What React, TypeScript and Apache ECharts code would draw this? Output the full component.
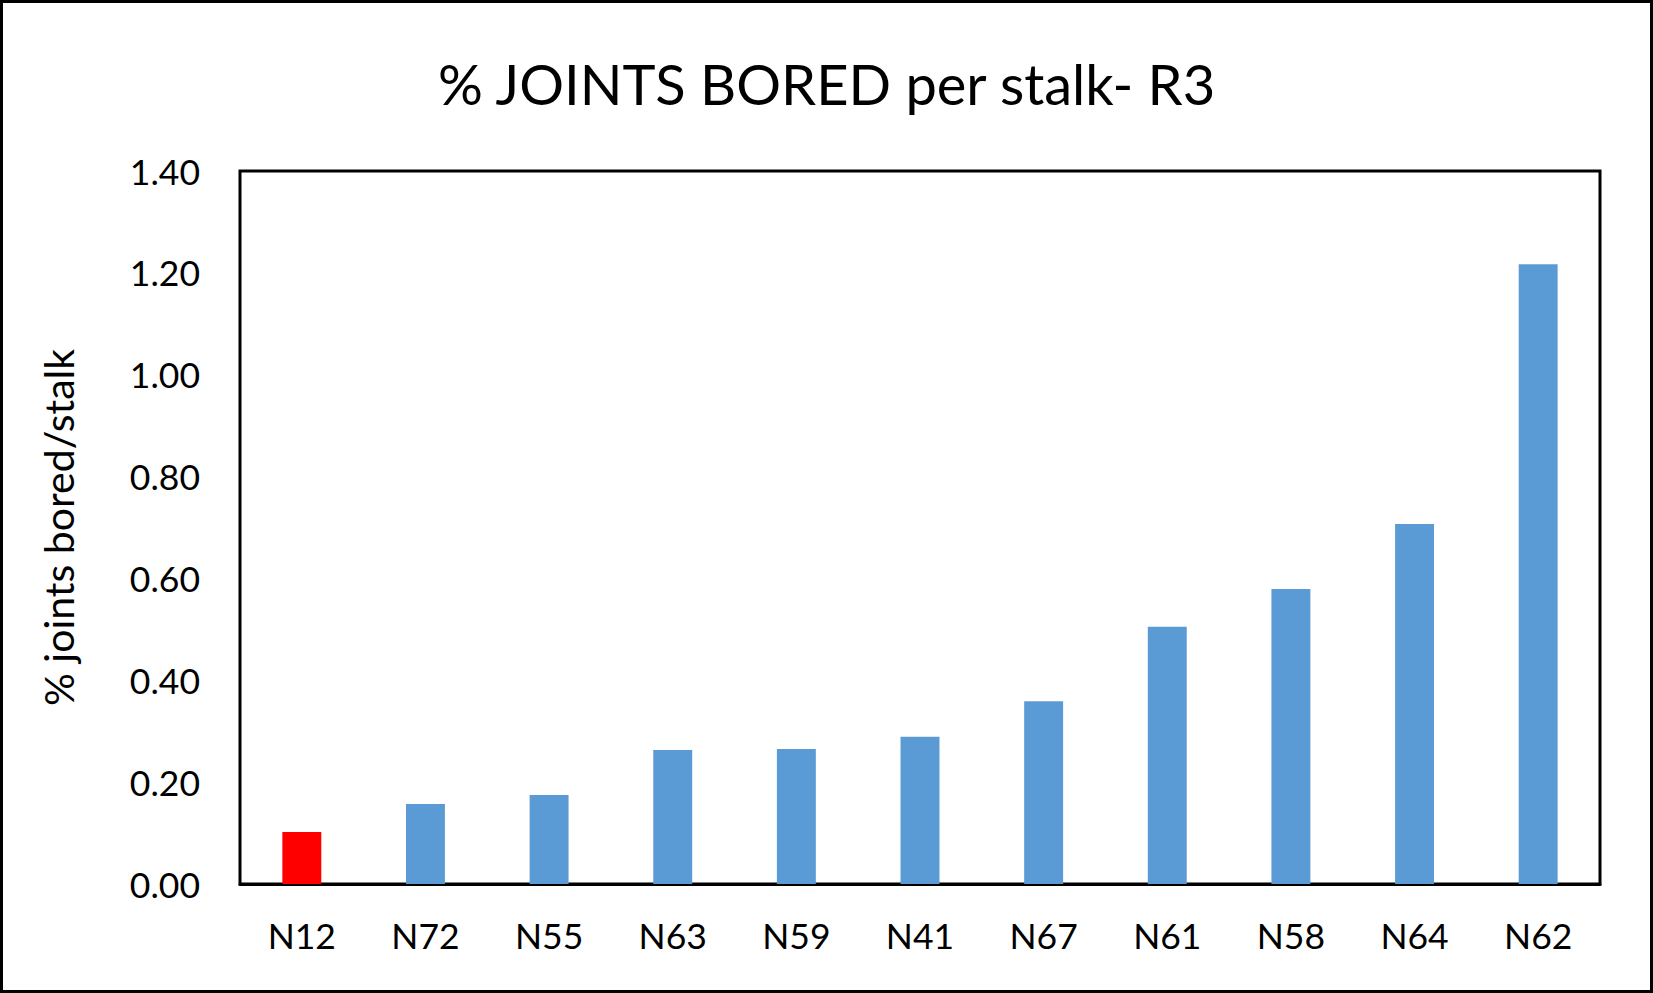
import React, { useEffect, useRef } from "react";
import * as echarts from "echarts";

const categories = ["N12", "N72", "N55", "N63", "N59", "N41", "N67", "N61", "N58", "N64", "N62"];
const values = [0.102, 0.157, 0.175, 0.263, 0.265, 0.289, 0.359, 0.505, 0.579, 0.707, 1.217];
const highlighted = ["N12"];
const titleText = "% JOINTS BORED per stalk- R3";
const yAxisTitle = "% joints bored/stalk";

const FONT = "Lato";

export default function App() {
  const ref = useRef<HTMLDivElement>(null);
  useEffect(() => {
    if (!ref.current) return;
    const chart = echarts.init(ref.current, null, { renderer: "svg" });
    chart.setOption({
      animation: false,
      backgroundColor: "#ffffff",
      title: {
        text: titleText,
        left: "center",
        top: 50,
        textStyle: { fontFamily: FONT, fontSize: 56, fontWeight: "normal", color: "#000" },
      },
      graphic: [
        {
          type: "rect",
          shape: { x: 1.5, y: 1.5, width: 1650, height: 990 },
          style: { fill: "none", stroke: "#000", lineWidth: 3 },
          silent: true,
        },
      ],
      grid: {
        left: 240,
        top: 171,
        right: 53,
        bottom: 109,
        show: true,
        borderColor: "#000",
        borderWidth: 3,
      },
      xAxis: {
        type: "category",
        data: categories,
        axisLine: { show: true, lineStyle: { color: "#000", width: 3 } },
        axisTick: { show: false },
        axisLabel: { fontFamily: FONT, fontSize: 35.5, color: "#000", margin: 33 },
        splitLine: { show: false },
      },
      yAxis: {
        type: "value",
        min: 0,
        max: 1.4,
        interval: 0.2,
        name: yAxisTitle,
        nameLocation: "middle",
        nameRotate: 90,
        nameGap: 161,
        nameTextStyle: { fontFamily: FONT, fontSize: 41, color: "#000" },
        axisLine: { show: false },
        axisTick: { show: false },
        splitLine: { show: false },
        axisLabel: {
          fontFamily: FONT,
          fontSize: 35.5,
          color: "#000",
          margin: 40,
          formatter: (v: number) => v.toFixed(2),
        },
      },
      series: [
        {
          type: "bar",
          barWidth: "31.5%",
          data: values.map((v, i) => ({
            value: v,
            itemStyle: { color: highlighted.includes(categories[i]) ? "#FF0000" : "#5B9BD5" },
          })),
        },
      ],
    });
    return () => chart.dispose();
  }, []);
  return (
    <div
      ref={ref}
      style={{ position: "fixed", left: 0, top: 0, width: 1653, height: 993, background: "#fff" }}
    />
  );
}
